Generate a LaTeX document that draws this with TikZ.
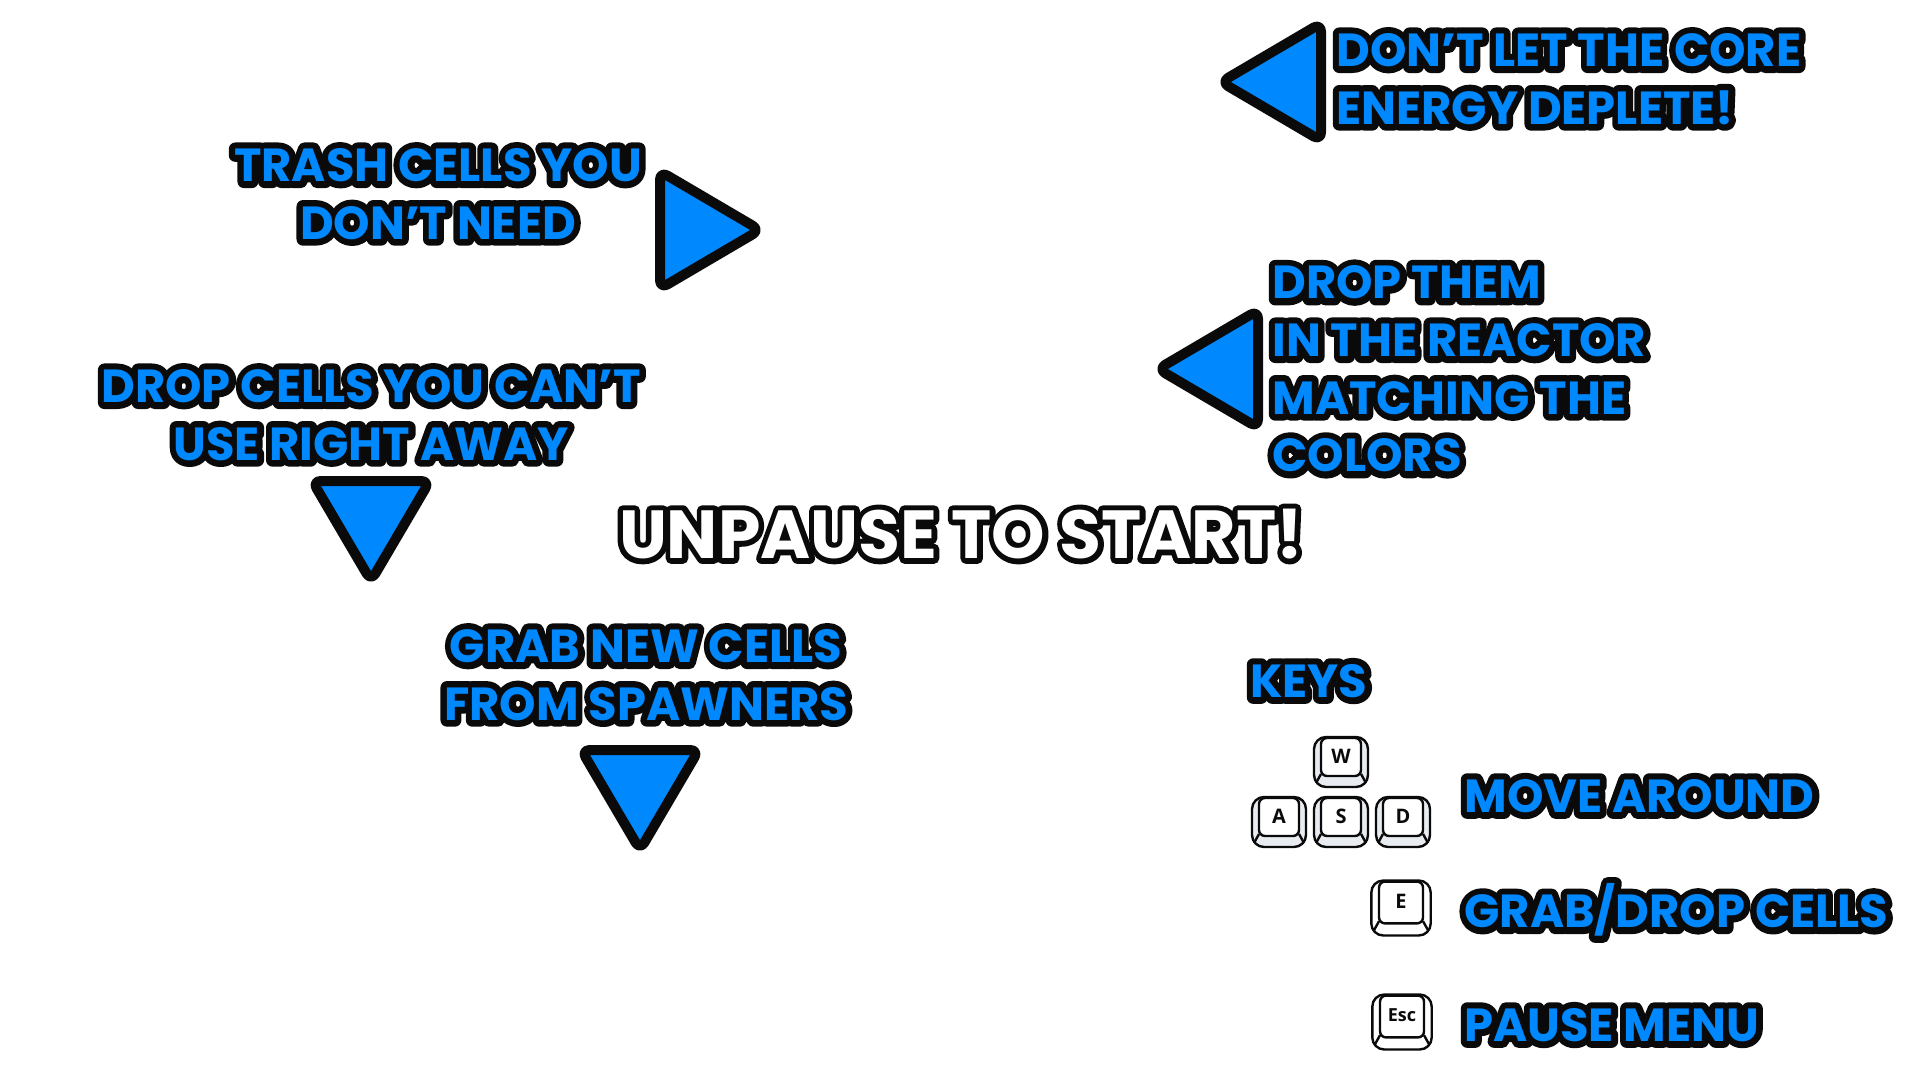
\documentclass[tikz,border=0pt]{standalone}
\usepackage{xcolor}
\usepackage{fontspec}
\usepackage{tikz}
\usetikzlibrary{positioning}
\newfontfamily\fillfont{Poppins}
\newfontfamily\edgefont[FakeBold=28]{Poppins}
\newfontfamily\startfont[FakeBold=16]{Poppins}
\newfontfamily\keyfont{Open Sans}
\definecolor{hintblue}{HTML}{0088FF}
\definecolor{edgeblack}{HTML}{0A0A0A}
\definecolor{capgray}{HTML}{E8ECF0}
% text with a thick edge under it
\newcommand{\hintline}[1]{\leavevmode\rlap{\edgefont\bfseries\color{edgeblack}#1}{\fillfont\bfseries\color{hintblue}#1}}
\newcommand{\startline}[1]{\leavevmode\rlap{\startfont\bfseries\color{edgeblack}#1}{\fillfont\bfseries\color{white}#1}}
\tikzset{
    hint/.style={inner sep=0pt,font=\fontsize{23.2}{28.8}\selectfont},
    tri/.style={line width=5pt,rounded corners=4.3pt,draw=edgeblack,fill=hintblue},
    keyline/.style={line width=1.2pt,draw=edgeblack},
    pics/keycap/.style n args={3}{code={
        \draw[keyline,fill=#2,rounded corners=6pt] (-27,-25) rectangle (27,25);
        \draw[keyline,fill=white,rounded corners=3pt] (-20,-24) rectangle (20,14);
        \draw[keyline] (-20,12) -- (-25,21) (20,12) -- (25,21);
        \node[font=\keyfont\bfseries\fontsize{#3}{#3}\selectfont,text=edgeblack,inner sep=0pt] (label) at (0,-6) {#1};
    }}
}
\begin{document}
\begin{tikzpicture}[x=0.5pt,y=-0.5pt,line join=round]
    % page
    \path[use as bounding box,fill=white] (0,0) rectangle (1920,1080);

    % pointers
    \draw[tri,shift={(1271,82)}] (-50,0) -- (50,58.75) -- (50,-58.75) -- cycle;
    \draw[tri,shift={(710,230)},rotate=180] (-50,0) -- (50,58.75) -- (50,-58.75) -- cycle;
    \draw[tri,shift={(1208,369)}] (-50,0) -- (50,58.75) -- (50,-58.75) -- cycle;
    \draw[tri,shift={(371,531)},rotate=90] (-50,0) -- (50,58.75) -- (50,-58.75) -- cycle;
    \draw[tri,shift={(640,800)},rotate=90] (-50,0) -- (50,58.75) -- (50,-58.75) -- cycle;

    % hints
    \node[hint,anchor=west,align=left] (core) at (1336,79) {\hintline{DON’T LET THE CORE}\\\hintline{ENERGY DEPLETE!}};
    \node[hint,align=center] (trash) at (438,194) {\hintline{TRASH CELLS YOU}\\\hintline{DON’T NEED}};
    \node[hint,anchor=west,align=left] (reactor) at (1272,369) {\hintline{DROP THEM}\\\hintline{IN THE REACTOR}\\\hintline{MATCHING THE}\\\hintline{COLORS}};
    \node[hint,align=center] (spare) at (371,415) {\hintline{DROP CELLS YOU CAN’T}\\\hintline{USE RIGHT AWAY}};
    \node[hint,align=center] (spawn) at (646,675) {\hintline{GRAB NEW CELLS}\\\hintline{FROM SPAWNERS}};
    \node[hint,font=\fontsize{34}{36}\selectfont] (start) at (961,534) {\startline{UNPAUSE TO START!}};

    % keys
    \node[hint,anchor=west] (keys) at (1250,681) {\hintline{KEYS}};
    \node[hint,anchor=west] (move) at (1464,796) {\hintline{MOVE AROUND}};
    \node[hint,anchor=west] (grab) at (1464,910) {\hintline{GRAB/DROP CELLS}};
    \node[hint,anchor=west] (pause) at (1464,1025) {\hintline{PAUSE MENU}};
    \pic (keyw) at (1341,762) {keycap={W}{capgray}{10}};
    \pic (keya) at (1279,822) {keycap={A}{capgray}{10}};
    \pic (keys) at (1341,822) {keycap={S}{capgray}{10}};
    \pic (keyd) at (1403,822) {keycap={D}{capgray}{10}};
    \pic[scale=1.1] (keye) at (1401,908) {keycap={E}{white}{10}};
    \pic[scale=1.1] (keyesc) at (1402,1022) {keycap={Esc}{white}{9}};
\end{tikzpicture}
\end{document}
